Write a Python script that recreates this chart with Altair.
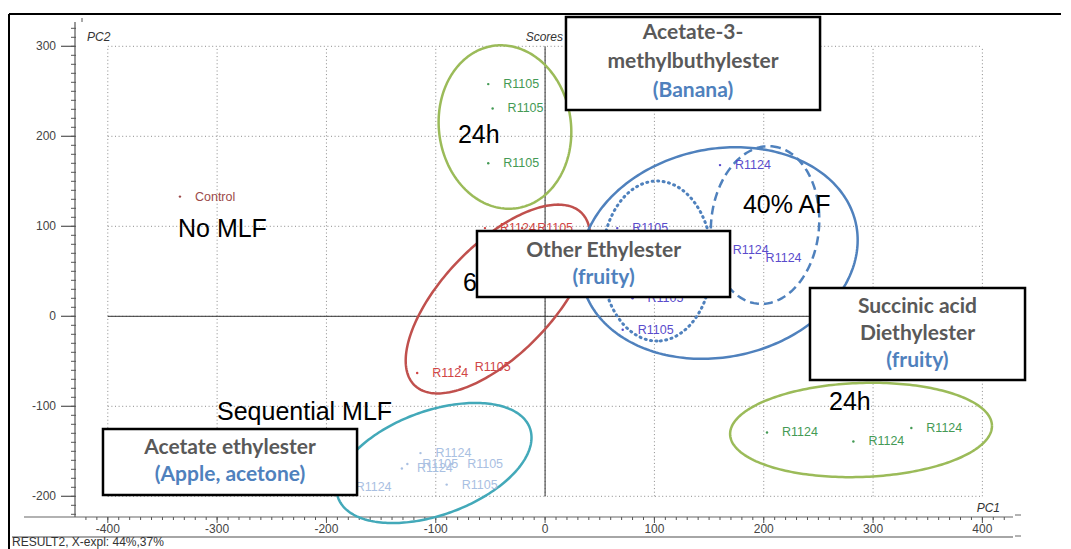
import altair as alt
import numpy as np
import pandas as pd

# ---------------- data ----------------
x_ticks = [-400, -300, -200, -100, 0, 100, 200, 300, 400]
y_ticks = [-200, -100, 0, 100, 200, 300]
x_minor = list(range(-420, 421, 10))
y_minor = list(range(-220, 321, 10))

control_x = [-334]
control_y = [133]
control_lab = ["Control"]

r1105_24h_x = [-52, -48, -52]
r1105_24h_y = [258, 231, 170]
r1105_24h_lab = ["R1105", "R1105", "R1105"]

r1124_24h_x = [203, 282, 335]
r1124_24h_y = [-129, -139, -124]
r1124_24h_lab = ["R1124", "R1124", "R1124"]

h6_x = [-55, -21, -117, -78]
h6_y = [98, 98, -63, -56]
h6_lab = ["R1124", "R1105", "R1124", "R1105"]

af40_x = [160, 66, 158, 188, 80, 71]
af40_y = [168, 98, 74, 65, 20, -15]
af40_lab = ["R1124", "R1105", "R1124", "R1124", "R1105", "R1105"]

seq_x = [-114, -126, -131, -85, -90, -187]
seq_y = [-152, -164, -169, -164, -187, -190]
seq_lab = ["R1124", "R1105", "R1124", "R1105", "R1105", "R1124"]

group_color = {"control": "#9c4a4a", "24h": "#449a55", "6h": "#d04545",
               "af40": "#5a4ccc", "seq": "#a9c0e2"}

# ellipses (centre in PC units, semi-axes in px, screen angle in degrees)
ell_name = ["24h_R1105", "6h", "40AF", "40AF_R1105", "40AF_R1124", "seq", "24h_R1124"]
ell_cx = [-36.7, -43.1, 159.1, 102.4, 201.2, -101.6, 289.0]
ell_cy = [210.3, 19.2, 70.3, 61.4, 101.4, -163.0, -126.3]
ell_a = [82, 120, 140, 80, 79, 102, 131]
ell_b = [66, 55, 104, 55, 54, 52, 47]
ell_phi = [82, -46, -12, 90, -85, -20, -2]
ell_style = ["solid", "solid", "solid", "dotted", "dashed", "solid", "solid"]
ell_color = ["#9bbb59", "#c0504d", "#4f81bd", "#4f81bd", "#4f81bd", "#43a9b9", "#9bbb59"]

big_lab = ["No MLF", "24h", "40% AF", "6h", "Sequential MLF", "24h"]
big_x = [-335.8, -79.7, 181.0, -75.1, -300.1, 259.7]
big_y = [97.0, 201.4, 123.7, 37.0, -106.3, -95.2]

box_x1 = [19.1, -62.3, 242.3, -404.4]
box_x2 = [251.5, 169.2, 439.0, -172.0]
box_y1 = [332.6, 94.8, 31.4, -125.2]
box_y2 = [229.2, 21.4, -70.8, -198.6]

box_text = ["Acetate-3-", "methylbuthylester", "(Banana)",
            "Other Ethylester", "(fruity)",
            "Succinic acid", "Diethylester", "(fruity)",
            "Acetate ethylester", "(Apple, acetone)"]
box_text_x = [135.3, 135.3, 135.3, 53.5, 53.5, 340.6, 340.6, 340.6, -288.2, -288.2]
box_text_y = [314.8, 282.6, 250.3, 72.6, 42.6, 10.3, -19.7, -49.7, -146.3, -176.3]
GRAY, BLUE = "#595959", "#4f81bd"
box_text_col = [GRAY, GRAY, BLUE, GRAY, BLUE, GRAY, GRAY, BLUE, GRAY, BLUE]

# ---------------- layout ----------------
W, H = 938, 495
XMIN, XMAX = -430, 428
YMIN, YMAX = -223, 327
sx = W / (XMAX - XMIN)
sy = H / (YMAX - YMIN)
xs = alt.Scale(domain=[XMIN, XMAX], nice=False, zero=False)
ys = alt.Scale(domain=[YMIN, YMAX], nice=False, zero=False)


def X(f):
    return alt.X(f, type="quantitative", scale=xs, axis=None)


def Y(f):
    return alt.Y(f, type="quantitative", scale=ys, axis=None)


def X2(f):
    return alt.X2(f)


def Y2(f):
    return alt.Y2(f)


# ---------------- tables ----------------
pts = []
for grp, xx, yy, ll in [("control", control_x, control_y, control_lab),
                        ("24h", r1105_24h_x, r1105_24h_y, r1105_24h_lab),
                        ("24h", r1124_24h_x, r1124_24h_y, r1124_24h_lab),
                        ("6h", h6_x, h6_y, h6_lab),
                        ("af40", af40_x, af40_y, af40_lab),
                        ("seq", seq_x, seq_y, seq_lab)]:
    for a, b, c in zip(xx, yy, ll):
        pts.append(dict(x=a, y=b, lab=c, color=group_color[grp]))
pts_df = pd.DataFrame(pts)

rows = []
for i, name in enumerate(ell_name):
    t = np.linspace(0, 2 * np.pi, 241)
    ph = np.radians(ell_phi[i])
    dx = ell_a[i] * np.cos(t) * np.cos(ph) - ell_b[i] * np.sin(t) * np.sin(ph)
    dy = ell_a[i] * np.cos(t) * np.sin(ph) + ell_b[i] * np.sin(t) * np.cos(ph)
    ex = ell_cx[i] + dx / sx
    ey = ell_cy[i] - dy / sy
    for k in range(len(t)):
        rows.append(dict(name=name, style=ell_style[i], color=ell_color[i], k=k,
                         x=float(ex[k]), y=float(ey[k])))
ell_df = pd.DataFrame(rows)

gh_df = pd.DataFrame({"gy": y_ticks, "x1": -400, "x2": 400})
gv_df = pd.DataFrame({"gx": x_ticks, "y1": -200, "y2": 300})
zero_h = pd.DataFrame({"gy": [0], "x1": [-400], "x2": [400]})
zero_v = pd.DataFrame({"gx": [0], "y1": [-200], "y2": [300]})
xt_df = pd.DataFrame({"v": x_ticks, "t": [str(v) for v in x_ticks]})
yt_df = pd.DataFrame({"v": y_ticks, "t": [str(v) for v in y_ticks]})

big_df = pd.DataFrame({"x": big_x, "y": big_y, "t": big_lab})
box_df = pd.DataFrame({"x1": box_x1, "x2": box_x2, "y1": box_y1, "y2": box_y2})
bt_df = pd.DataFrame({"x": box_text_x, "y": box_text_y, "t": box_text, "c": box_text_col})

one = pd.DataFrame({"a": [0]})

# ---------------- layers ----------------
GRID = dict(color="#8a8a8a", strokeDash=[1, 2.6], strokeWidth=1)
grid_h = alt.Chart(gh_df).mark_rule(**GRID).encode(x=X("x1"), x2=X2("x2"), y=Y("gy"))
grid_v = alt.Chart(gv_df).mark_rule(**GRID).encode(x=X("gx"), y=Y("y1"), y2=Y2("y2"))
zh = alt.Chart(zero_h).mark_rule(color="#333", strokeWidth=1).encode(
    x=X("x1"), x2=X2("x2"), y=Y("gy"))
zv = alt.Chart(zero_v).mark_rule(color="#333", strokeWidth=1).encode(
    x=X("gx"), y=Y("y1"), y2=Y2("y2"))

# axes drawn from the tick lists
yaxis_line = alt.Chart(one).mark_rule(color="#555", strokeWidth=1.2).encode(
    x=alt.value(0), y=alt.value(0), y2=alt.value(H))
xaxis_line = alt.Chart(one).mark_rule(color="#666", strokeWidth=1.2).encode(
    x=alt.value(-51), x2=alt.value(W), y=alt.value(H))
xaxis_line2 = alt.Chart(one).mark_rule(color="#888", strokeWidth=1.5).encode(
    x=alt.value(-63), x2=alt.value(W), y=alt.value(H + 20))
xminor = alt.Chart(pd.DataFrame({"v": x_minor})).mark_rule(color="#555", strokeWidth=1).encode(
    x=X("v"), y=alt.value(H), y2=alt.value(H + 3))
yminor = alt.Chart(pd.DataFrame({"v": y_minor})).mark_rule(color="#555", strokeWidth=1).encode(
    y=Y("v"), x=alt.value(-4), x2=alt.value(1))
xmajor = alt.Chart(xt_df).mark_rule(color="#555", strokeWidth=1).encode(
    x=X("v"), y=alt.value(H), y2=alt.value(H + 6))
ymajor = alt.Chart(yt_df).mark_rule(color="#555", strokeWidth=1.2).encode(
    y=Y("v"), x=alt.value(-14), x2=alt.value(0))
xlabels = alt.Chart(xt_df).mark_text(align="center", baseline="middle", font="Liberation Sans",
                                     fontSize=12, color="#444").encode(
    x=X("v"), y=alt.value(H + 12), text="t:N")
ylabels = alt.Chart(yt_df).mark_text(align="right", baseline="middle", font="Liberation Sans",
                                     fontSize=12, color="#444").encode(
    y=Y("v"), x=alt.value(-19), text="t:N")

dash1 = alt.Chart(one).mark_rule(color="#666", strokeWidth=1).encode(
    x=alt.value(W + 2), x2=alt.value(W + 8), y=alt.value(H - 2))
dash2 = alt.Chart(one).mark_rule(color="#666", strokeWidth=1).encode(
    x=alt.value(W + 2), x2=alt.value(W + 8), y=alt.value(H + 19))
ytop = alt.Chart(one).mark_rule(color="#555", strokeWidth=1).encode(
    x=alt.value(7), y=alt.value(-4), y2=alt.value(0))
frame_top = alt.Chart(one).mark_rule(color="black", strokeWidth=2).encode(
    x=alt.value(-66), x2=alt.value(W + 100), y=alt.value(-8))
frame_left = alt.Chart(one).mark_rule(color="black", strokeWidth=2).encode(
    x=alt.value(-66), y=alt.value(-8), y2=alt.value(H + 60))


def ell_layer(style, **kw):
    kw.setdefault("strokeWidth", 2.5)
    return alt.Chart(ell_df[ell_df["style"] == style]).mark_line(**kw).encode(
        x=X("x"), y=Y("y"), detail="name:N", order="k:Q",
        color=alt.Color("color:N", scale=None))


ell_solid = ell_layer("solid")
ell_dot = ell_layer("dotted", strokeDash=[1, 4.5], strokeCap="round", strokeWidth=3)
ell_dash = ell_layer("dashed", strokeDash=[9, 5])

points = alt.Chart(pts_df).mark_circle(size=6, opacity=1).encode(
    x=X("x"), y=Y("y"), color=alt.Color("color:N", scale=None))
plabels = alt.Chart(pts_df).mark_text(dx=15, align="left", baseline="middle",
                                      font="Liberation Sans", fontSize=12.5).encode(
    x=X("x"), y=Y("y"), text="lab:N", color=alt.Color("color:N", scale=None))

big = alt.Chart(big_df).mark_text(align="left", baseline="middle", font="Liberation Sans",
                                  fontSize=25, color="black").encode(
    x=X("x"), y=Y("y"), text="t:N")

boxes = alt.Chart(box_df).mark_rect(fill="white", stroke="black", strokeWidth=2.5).encode(
    x=X("x1"), x2=X2("x2"), y=Y("y1"), y2=Y2("y2"))
btext = alt.Chart(bt_df).mark_text(align="center", baseline="middle", font="Lato",
                                   fontWeight="bold", fontSize=21).encode(
    x=X("x"), y=Y("y"), text="t:N", color=alt.Color("c:N", scale=None))


def label(txt, x, y, align="left", italic=True, size=12, color="#333"):
    kw = dict(align=align, baseline="middle", font="Liberation Sans", fontSize=size, color=color)
    if italic:
        kw["fontStyle"] = "italic"
    return alt.Chart(pd.DataFrame({"t": [txt]})).mark_text(**kw).encode(
        x=alt.value(x), y=alt.value(y), text="t:N")


pc2 = label("PC2", 12, 15)
scores = label("Scores", 488, 15, align="right")
pc1 = label("PC1", 925, 486, align="right")
result = label("RESULT2, X-expl: 44%,37%", -63, 520, italic=False, size=12, color="#333")

chart = alt.layer(
    grid_h, grid_v, zh, zv,
    yaxis_line, xaxis_line, xaxis_line2, xminor, yminor, xmajor, ymajor, xlabels, ylabels,
    dash1, dash2, ytop,
    ell_solid, ell_dot, ell_dash, points, plabels, big, boxes, btext,
    pc2, scores, pc1, result, frame_top, frame_left
).properties(
    width=W, height=H,
    autosize=alt.AutoSizeParams(type="none"),
    padding={"left": 67, "top": 14, "right": 48, "bottom": 32},
    background="white",
).configure_view(stroke=None)

chart.save("out.html", embed_options={"renderer": "svg", "actions": False})
